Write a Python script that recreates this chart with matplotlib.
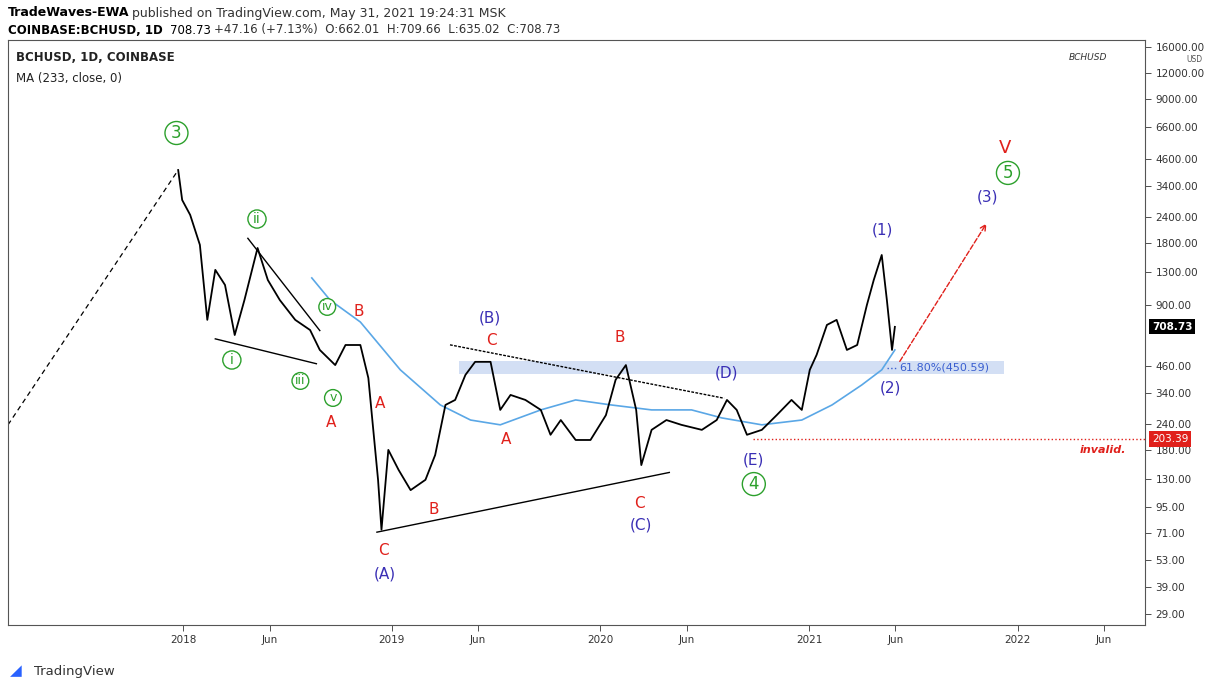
import numpy as np
import pandas as pd
import matplotlib
matplotlib.use("Agg")
import matplotlib.pyplot as plt
from matplotlib.ticker import FixedLocator, NullLocator

# ---- price (approx. closes) ----
price_dates = [
    "2017-12-23", "2017-12-30", "2018-01-13", "2018-01-30", "2018-02-12", "2018-02-26",
    "2018-03-15", "2018-04-01", "2018-04-18", "2018-05-11", "2018-05-29", "2018-06-19",
    "2018-07-16", "2018-08-11", "2018-08-28", "2018-09-24", "2018-10-12", "2018-11-07",
    "2018-11-21", "2018-11-28", "2018-12-08", "2018-12-14", "2018-12-26", "2019-01-13",
    "2019-02-03", "2019-03-01", "2019-03-18", "2019-04-05", "2019-04-22", "2019-05-10",
    "2019-05-27", "2019-06-23", "2019-07-10", "2019-07-28", "2019-08-23", "2019-09-19",
    "2019-10-06", "2019-10-24", "2019-11-19", "2019-12-15", "2020-01-11", "2020-01-28",
    "2020-02-15", "2020-03-04", "2020-03-13", "2020-03-31", "2020-04-26", "2020-05-22",
    "2020-06-27", "2020-07-23", "2020-08-10", "2020-08-27", "2020-09-14", "2020-10-10",
    "2020-11-05", "2020-12-01", "2020-12-19", "2021-01-02", "2021-01-14", "2021-02-01",
    "2021-02-18", "2021-03-08", "2021-03-26", "2021-04-12", "2021-04-24", "2021-05-08",
    "2021-05-17", "2021-05-26", "2021-05-31",
]
price_close = [
    4064, 2911, 2466, 1766, 766, 1337,
    1130, 647, 955, 1706, 1194, 955,
    766, 684, 548, 463, 579, 579,
    401, 251, 129, 74, 180, 144,
    115, 129, 170, 297, 314, 415,
    480, 480, 281, 332, 314, 281,
    213, 251, 201, 201, 265, 393,
    463, 281, 152, 225, 251, 238,
    225, 251, 314, 281, 213, 225,
    265, 314, 281, 439, 519, 724,
    766, 548, 579, 904, 1194, 1578,
    955, 548, 708.73,
]

# ---- MA(233) ----
ma_dates = [
    "2018-08-14", "2018-09-15", "2018-11-07", "2019-01-16", "2019-03-27", "2019-05-19",
    "2019-07-10", "2019-09-19", "2019-11-19", "2020-01-20", "2020-03-31", "2020-06-09",
    "2020-08-01", "2020-10-10", "2020-12-19", "2021-02-10", "2021-04-03", "2021-05-08",
    "2021-05-31",
]
ma_values = [1222, 955, 748, 439, 297, 251, 238, 281, 314, 297, 281, 281,
             257, 238, 251, 297, 371, 439, 548]

y_ticks = [29, 39, 53, 71, 95, 130, 180, 240, 340, 460, 900, 1300, 1800,
           2400, 3400, 4600, 6600, 9000, 12000, 16000]
last_price = 708.73
invalid_level = 203.39
fib_level = 450.59
YMIN, YMAX = 25.6, 17300

GREEN = "#2ca02c"
RED = "#e0201b"
BLUE = "#3a2fb5"

fig = plt.figure(figsize=(12.12, 6.89), dpi=100)
ax = fig.add_axes([8 / 1212, 1 - 625 / 689, 1137 / 1212, 585 / 689])
ax.set_yscale("log")
ax.set_xlim(pd.Timestamp("2017-02-28"), pd.Timestamp("2022-08-12"))
ax.set_ylim(YMIN, YMAX)

# fib zone + dotted invalidation level
ax.fill_between(pd.to_datetime(["2019-04-28", "2021-12-08"]), 420, 485, color="#c9d8f2", alpha=0.8, lw=0)
ax.plot(pd.to_datetime(["2021-05-18", "2021-06-04"]), [fib_level, fib_level], color="#3a5fd0", ls=":", lw=1)
ax.text(pd.Timestamp("2021-06-08"), fib_level, "61.80%(450.59)", color="#3a5fd0", fontsize=8, va="center")
ax.axhline(invalid_level, xmin=0.655, color=RED, ls=":", lw=1)
ax.text(pd.Timestamp("2022-07-10"), 180, "invalid.", color=RED, fontsize=8, style="italic",
        fontweight="bold", ha="right", va="center")

# dashed lead-in line
ax.plot(pd.to_datetime(["2017-02-28", "2017-12-23"]), [238, 4064], color="black", ls=(0, (4, 3)), lw=0.9)

ax.plot(pd.to_datetime(ma_dates), ma_values, color="#5aa7e6", lw=1.2)
ax.plot(pd.to_datetime(price_dates), price_close, color="black", lw=1.3)

# trend lines
def tl(d0, p0, d1, p1, **kw):
    ax.plot(pd.to_datetime([d0, d1]), [p0, p1], color="black", lw=1, **kw)

tl("2018-04-24", 1900, "2018-08-28", 680)
tl("2018-02-26", 620, "2018-08-22", 470)
tl("2018-12-06", 72, "2020-05-01", 140)
tl("2019-04-13", 580, "2020-08-05", 320, ls=(0, (2, 1)))
ax.annotate("", xy=(pd.Timestamp("2021-11-10"), 2300), xytext=(pd.Timestamp("2021-06-06"), 470),
            arrowprops=dict(arrowstyle="->", color=RED, ls="--", lw=1))

# wave labels
def lab(d, p, s, c, size=11, circle=False):
    kw = dict(color=c, fontsize=size, ha="center", va="center")
    if circle:
        kw["bbox"] = dict(boxstyle="circle,pad=0.15", fc="white", ec=c, lw=1)
    ax.text(pd.Timestamp(d), p, s, **kw)

lab("2017-12-20", 6140, "3", GREEN, 12, True)
lab("2018-05-10", 2355, "ii", GREEN, 10, True)
lab("2018-09-10", 885, "iv", GREEN, 9, True)
lab("2018-03-27", 490, "i", GREEN, 10, True)
lab("2018-07-25", 388, "iii", GREEN, 9, True)
lab("2018-09-20", 321, "v", GREEN, 9, True)
lab("2018-11-05", 845, "B", RED)
lab("2018-12-12", 303, "A", RED)
lab("2018-09-16", 243, "A", RED)
lab("2018-12-18", 59, "C", RED)
lab("2018-12-20", 45, "(A)", BLUE)
lab("2019-03-15", 93, "B", RED)
lab("2019-06-22", 782, "(B)", BLUE)
lab("2019-06-24", 612, "C", RED)
lab("2019-07-20", 201, "A", RED)
lab("2020-02-05", 626, "B", RED)
lab("2020-03-10", 99, "C", RED)
lab("2020-03-12", 78, "(C)", BLUE)
lab("2020-08-10", 424, "(D)", BLUE)
lab("2020-09-25", 161, "(E)", BLUE)
lab("2020-09-26", 123, "4", GREEN, 12, True)
lab("2021-05-10", 2085, "(1)", BLUE)
lab("2021-05-24", 359, "(2)", BLUE)
lab("2021-12-10", 5200, "V", RED, 13)
lab("2021-12-15", 3936, "5", GREEN, 12, True)
lab("2021-11-10", 3013, "(3)", BLUE)

# axes styling
ax.yaxis.tick_right()
ax.yaxis.set_major_locator(FixedLocator(y_ticks))
ax.yaxis.set_minor_locator(NullLocator())
ax.set_yticklabels([f"{v:.2f}" for v in y_ticks])
xt = pd.to_datetime(["2018-01-01", "2018-06-01", "2019-01-01", "2019-06-01", "2020-01-01",
                     "2020-06-01", "2021-01-01", "2021-06-01", "2022-01-01", "2022-06-01"])
ax.set_xticks(xt)
ax.set_xticklabels(["2018", "Jun", "2019", "Jun", "2020", "Jun", "2021", "Jun", "2022", "Jun"])
ax.tick_params(labelsize=7.5, colors="#333333", length=4, width=0.6)
for s in ax.spines.values():
    s.set_color("#555555")
    s.set_linewidth(0.8)

# price tags on right
def frac(v):
    return (np.log10(v) - np.log10(YMIN)) / (np.log10(YMAX) - np.log10(YMIN))

ax.text(1.006, frac(last_price), f"{last_price:.2f}", transform=ax.transAxes, fontsize=7.5,
        color="white", fontweight="bold", va="center",
        bbox=dict(boxstyle="square,pad=0.25", fc="black", ec="none"))
ax.text(1.006, frac(invalid_level), f"{invalid_level:.2f}", transform=ax.transAxes, fontsize=7.5,
        color="white", va="center", bbox=dict(boxstyle="square,pad=0.25", fc=RED, ec="none"))
ax.text(1.036, 0.967, "USD", transform=ax.transAxes, fontsize=5.5, color="#555555", va="center")

ax.text(0.007, 0.97, "BCHUSD, 1D, COINBASE", transform=ax.transAxes, fontsize=8.5, va="center",
        fontweight="bold", color="#222222")
ax.text(0.007, 0.935, "MA (233, close, 0)", transform=ax.transAxes, fontsize=8.5, va="center", color="#222222")
ax.text(0.95, 0.97, "BCHUSD", transform=ax.transAxes, fontsize=6.5, style="italic", ha="center",
        va="center", color="#333333")

fig.text(8 / 1212, 1 - 13 / 689, "TradeWaves-EWA", fontsize=9, fontweight="bold", va="center")
fig.text(132 / 1212, 1 - 13 / 689, "published on TradingView.com, May 31, 2021 19:24:31 MSK",
         fontsize=9, va="center", color="#333333")
fig.text(8 / 1212, 1 - 30 / 689, "COINBASE:BCHUSD, 1D", fontsize=8.5, fontweight="bold", va="center")
fig.text(170 / 1212, 1 - 30 / 689, "708.73", fontsize=8.5, va="center")
fig.text(214 / 1212, 1 - 30 / 689, "+47.16 (+7.13%)  O:662.01  H:709.66  L:635.02  C:708.73",
         fontsize=8.5, va="center", color="#333333")
fig.text(34 / 1212, 1 - 671 / 689, "TradingView", fontsize=9.5, va="center", color="#333333")
fig.text(10 / 1212, 1 - 671 / 689, "◢", fontsize=11, va="center", color="#2962ff")

fig.savefig("out.png", dpi=100)
